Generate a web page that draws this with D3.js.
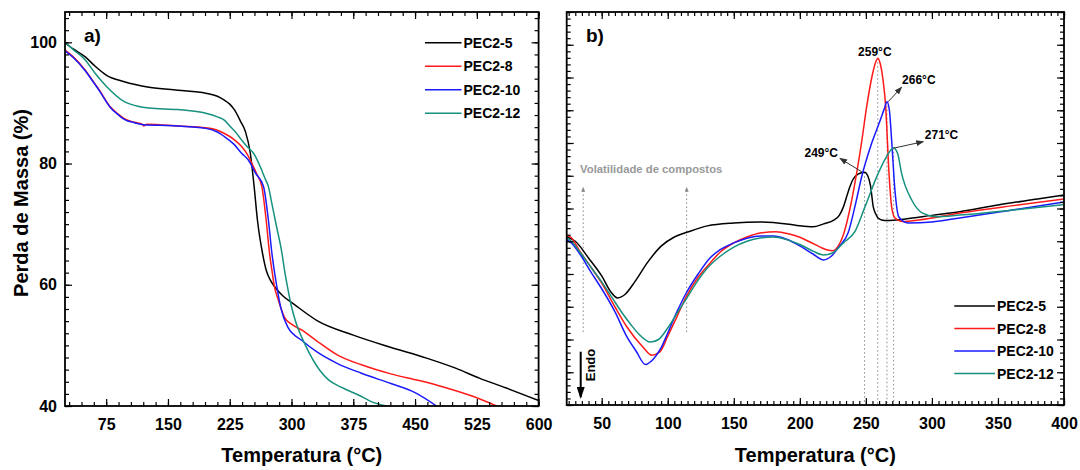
<!DOCTYPE html>
<meta charset="utf-8">
<style>

body {
  margin: 0;
  background: #fff;
}

svg {
  font-family: "Liberation Sans", Arial, Helvetica, sans-serif;
  font-weight: bold;
}

.tick text {
  font-size: 16px;
  font-weight: bold;
  fill: #000;
}

.tick line {
  stroke: #000;
  stroke-width: 1.2px;
}

.frame {
  fill: none;
  stroke: #000;
  stroke-width: 1.8px;
}

.curve {
  fill: none;
  stroke-width: 1.5px;
}

</style>
<svg width="1080" height="470"></svg>
<script src="https://d3js.org/d3.v7.min.js"></script>
<script>

var names = ["PEC2-5", "PEC2-8", "PEC2-10", "PEC2-12"];
var colors = ["#000000", "#ff1a1a", "#1a1aff", "#17917f"];

// a) TGA, [temperatura, perda de massa %]
var tga5 = [[25,99.9],[35,98.9],[49.6,97.6],[62,96.0],[75,94.6],[97,93.5],[127,92.6],[162,92.1],[196,91.6],[210,91.1],[218,90.5],[225,89.8],[231,88.8],[238,87.0],[244,85.3],[250,81.7],[254.7,76.1],[258.7,70.6],[264.8,65.2],[269.3,62.4],[275,60.6],[280,59.6],[290,58.1],[302,56.9],[331,54.1],[375,51.7],[420,49.7],[464,47.9],[500,46.2],[528,44.6],[560,43.0],[600,40.9]];
var tga8 = [[25,98.7],[35,97.6],[49.6,95.4],[58,93.8],[66.8,92.1],[79.7,89.4],[90,88.1],[97,87.4],[110,86.8],[118.6,86.5],[121,86.2],[124,86.5],[140,86.4],[162,86.2],[196,85.9],[210,85.5],[218,85.0],[230,84.0],[239.4,82.8],[246,81.6],[252,80.0],[258,78.2],[264,76.2],[269.3,70.6],[273.3,65.2],[276.2,62.4],[279.4,59.6],[284,57.5],[291.2,54.7],[300,53.5],[312.7,52.5],[330,50.8],[355.9,48.4],[385,46.8],[420.6,45.3],[455,44.2],[485.3,43.1],[520,41.6],[549,40.0]];
var tga10 = [[25,98.6],[35,97.5],[49.6,95.3],[58,93.7],[66.8,92.0],[79.7,89.3],[90,88.0],[97,87.3],[110,86.7],[120,86.4],[140,86.3],[162,86.2],[196,85.8],[210,85.2],[218,84.5],[230,83.2],[239.4,81.7],[248,80.5],[256,78.5],[266,76.2],[272,70.6],[276.2,65.2],[279,62.4],[282.3,59.6],[286.8,56.3],[295.5,53.0],[312.7,50.8],[330,49.0],[355.9,47.0],[385,45.4],[420.6,43.7],[450,42.2],[476,40.0]];
var tga12 = [[25,100],[35,98.8],[49.6,97.1],[62,94.8],[75.4,92.7],[97,90.2],[112,89.5],[127,89.15],[162,88.9],[196,88.3],[210,87.7],[218,87.2],[225.6,86.1],[232,85.2],[239.4,83.9],[246,82.8],[253.9,81.7],[262,79.5],[268,77.5],[272,76.2],[276,73.5],[280.3,70.6],[288.4,65.2],[292,62.0],[295.5,59.4],[299.8,56.5],[304.6,54.1],[317,50.0],[334.3,45.9],[345,44.3],[360.2,43.1],[380,41.9],[399,40.6],[416,40.0]];

// b) DTA, [temperatura, sinal (u.a.)]
var dta5 = [[23.5,5.13],[30,5.0],[40,4.49],[50,3.94],[57,3.45],[62,3.27],[68,3.39],[75,3.76],[85,4.37],[95,4.85],[105,5.13],[115,5.28],[130,5.47],[150,5.56],[170,5.59],[190,5.53],[200,5.47],[210,5.44],[218,5.53],[226,5.65],[230,5.8],[233,6.05],[237,6.56],[240,6.87],[244,7.05],[249,7.11],[251.5,6.99],[253.5,6.7],[255.6,6.05],[257.5,5.83],[259.2,5.71],[262,5.65],[266,5.63],[280,5.68],[300,5.79],[321,5.9],[350,6.11],[380,6.29],[400,6.41]];
var dta8 = [[23.5,5.16],[26,5.14],[33.6,4.68],[42,4.2],[50,3.72],[60,3.0],[69,2.39],[81,1.78],[88,1.52],[94,1.62],[100,2.1],[107,2.7],[114,3.31],[123,3.9],[132,4.33],[140,4.68],[149.5,4.94],[160,5.13],[170,5.25],[182,5.29],[192,5.22],[200,5.12],[208,4.97],[215,4.83],[221,4.73],[225,4.71],[229,4.85],[233,5.2],[238,6.0],[243,7.08],[247,8.09],[250.6,9.11],[255,10.1],[257.5,10.48],[259,10.59],[260.7,10.45],[263,9.92],[265,9.11],[267.5,7.08],[269.5,6.05],[272,5.71],[278,5.6],[290,5.65],[321,5.86],[360,6.08],[400,6.29]];
var dta10 = [[23.5,5.05],[27,4.95],[34,4.58],[42,4.05],[50,3.55],[60,2.85],[69,2.09],[76,1.65],[83,1.24],[89,1.4],[95,1.75],[100,2.2],[107,2.85],[114,3.42],[123,4.0],[132,4.49],[140,4.75],[150,4.95],[160,5.09],[170,5.16],[180,5.16],[190,5.06],[200,4.86],[210,4.61],[218,4.43],[224,4.55],[230,4.85],[236.5,5.25],[242,6.11],[247,7.0],[254,7.95],[260,8.6],[264,9.05],[266,9.26],[267.8,9.0],[269.5,8.09],[272,6.56],[275,5.74],[282,5.56],[300,5.59],[321,5.71],[360,5.95],[400,6.2]];
var dta12 = [[23.5,5.1],[27,5.0],[34,4.64],[42,4.2],[50,3.76],[58,3.27],[65,2.84],[72,2.46],[78,2.17],[87,1.92],[93,2.0],[100,2.35],[107,2.8],[115,3.3],[122,3.75],[130,4.18],[140,4.55],[150,4.82],[160,5.0],[170,5.1],[180,5.13],[190,5.05],[200,4.9],[210,4.7],[218,4.58],[225,4.65],[233,4.95],[241.8,5.3],[249.3,6.05],[259.4,7.08],[265,7.54],[271,7.85],[274,7.69],[277,7.08],[284.7,6.26],[293,5.86],[303.6,5.75],[321,5.8],[360,5.95],[400,6.12]];

var tgaXTicks = [75, 150, 225, 300, 375, 450, 525, 600];
var tgaYTicks = [40, 60, 80, 100];
var dtaXTicks = [50, 100, 150, 200, 250, 300, 350, 400];
var dtaYTicks = d3.range(0, 13, 1);

// peak labels: text, label position, arrow from -> to (data units)
var peakNotes = [
  {text: "249°C", t: 216.2, v: 7.57, from: [246.9, 7.12], to: [230.4, 7.53]},
  {text: "259°C", t: 256.8, v: 10.65, from: null, to: null},
  {text: "266°C", t: 290.1, v: 9.79, from: [266.9, 9.26], to: [277, 9.70]},
  {text: "271°C", t: 307.3, v: 8.13, from: [270.7, 7.84], to: [293.4, 8.04]}
];
var volatileT = [36, 114.3];
var volatileRange = [2.23, 6.63];

var svg = d3.select("svg");

var x1 = d3.scaleLinear().domain([25, 600]).range([65, 538.6]),
    y1 = d3.scaleLinear().domain([40, 105]).range([406, 12]),
    x2 = d3.scaleLinear().domain([23.5, 400]).range([566.7, 1064]),
    y2 = d3.scaleLinear().domain([0, 12]).range([405, 12]);

var defs = svg.append("defs");
defs.append("marker").attr("id", "head")
    .attr("markerUnits", "userSpaceOnUse")
    .attr("markerWidth", 8).attr("markerHeight", 6)
    .attr("refX", 7).attr("refY", 3).attr("orient", "auto")
  .append("path").attr("d", "M0,0L8,3L0,6z").attr("fill", "#333");
defs.append("marker").attr("id", "headGray")
    .attr("markerUnits", "userSpaceOnUse")
    .attr("markerWidth", 5).attr("markerHeight", 4)
    .attr("refX", 4).attr("refY", 2).attr("orient", "auto")
  .append("path").attr("d", "M0,0L5,2L0,4z").attr("fill", "#888");
defs.append("marker").attr("id", "headEndo")
    .attr("markerUnits", "userSpaceOnUse")
    .attr("markerWidth", 12).attr("markerHeight", 8)
    .attr("refX", 10).attr("refY", 4).attr("orient", "auto")
  .append("path").attr("d", "M0,0L12,4L0,8z").attr("fill", "#000");

function clip(id, x, y) {
  defs.append("clipPath").attr("id", id)
    .append("rect")
    .attr("x", x.range()[0]).attr("y", y.range()[1])
    .attr("width", x.range()[1] - x.range()[0])
    .attr("height", y.range()[0] - y.range()[1]);
}
clip("clipA", x1, y1);
clip("clipB", x2, y2);

function axes(g, x, y, xt, xm, yt, ym, yLabels) {
  var b = y.range()[0], t = y.range()[1], l = x.range()[0], r = x.range()[1];
  [[d3.axisBottom, b, true], [d3.axisTop, t, false]].forEach(function(a) {
    g.append("g").attr("transform", "translate(0," + a[1] + ")")
      .call(a[0](x).tickValues(xm).tickSize(-4).tickFormat(""));
    g.append("g").attr("transform", "translate(0," + a[1] + ")")
      .call(a[0](x).tickValues(xt).tickSize(-7).tickPadding(13)
        .tickFormat(a[2] ? d3.format("d") : ""));
  });
  [[d3.axisLeft, l, yLabels], [d3.axisRight, r, false]].forEach(function(a) {
    g.append("g").attr("transform", "translate(" + a[1] + ",0)")
      .call(a[0](y).tickValues(ym).tickSize(-4).tickFormat(""));
    g.append("g").attr("transform", "translate(" + a[1] + ",0)")
      .call(a[0](y).tickValues(yt).tickSize(-7).tickPadding(8)
        .tickFormat(a[2] ? d3.format("d") : ""));
  });
  g.selectAll(".domain").remove();
  g.append("rect").attr("class", "frame")
    .attr("x", l).attr("y", t).attr("width", r - l).attr("height", b - t);
}

function curves(g, x, y, data, clipId) {
  var line = d3.line()
    .x(function(d) { return x(d[0]); })
    .y(function(d) { return y(d[1]); })
    .curve(d3.curveMonotoneX);
  g.append("g").attr("clip-path", "url(#" + clipId + ")")
    .selectAll("path").data(data).enter().append("path")
    .attr("class", "curve")
    .attr("stroke", function(d, i) { return colors[i]; })
    .attr("d", line);
}

function legend(g, x0, x1l, y0, dy) {
  var item = g.selectAll(".leg").data(names).enter().append("g")
    .attr("transform", function(d, i) { return "translate(0," + (y0 + i * dy) + ")"; });
  item.append("line").attr("x1", x0).attr("x2", x1l)
    .attr("stroke", function(d, i) { return colors[i]; })
    .attr("stroke-width", 1.6);
  item.append("text").attr("x", x1l + 2).attr("dy", "0.36em")
    .attr("font-size", 14).text(function(d) { return d; });
}

// ---- a) TGA
var ga = svg.append("g");
var tgaData = [tga5, tga8, tga10, tga12];
curves(ga, x1, y1, tgaData, "clipA");
axes(ga, x1, y1, tgaXTicks, d3.range(30, 601, 15), tgaYTicks, d3.range(40, 105, 2), true);
legend(ga, 425, 461.5, 42.7, 23.5);
ga.append("text").attr("x", 84).attr("y", 42).attr("font-size", 19).text("a)");
ga.append("text").attr("transform", "translate(28,203) rotate(-90)")
  .attr("text-anchor", "middle").attr("font-size", 20).text("Perda de Massa (%)");
ga.append("text").attr("x", (x1.range()[0] + x1.range()[1]) / 2).attr("y", 462)
  .attr("text-anchor", "middle").attr("font-size", 20).text("Temperatura (°C)");

// ---- b) DTA
var gb = svg.append("g");
var dtaData = [dta5, dta8, dta10, dta12];

// dotted lines under the peaks
dtaData.forEach(function(s) {
  var p = d3.greatest(s, function(d) { return d[1]; });
  gb.append("line")
    .attr("x1", x2(p[0])).attr("x2", x2(p[0]))
    .attr("y1", y2(p[1])).attr("y2", y2(0))
    .attr("stroke", "#888").attr("stroke-width", 1)
    .attr("stroke-dasharray", "1.5,2.5");
});

volatileT.forEach(function(t) {
  gb.append("line")
    .attr("x1", x2(t)).attr("x2", x2(t))
    .attr("y1", y2(volatileRange[0])).attr("y2", y2(volatileRange[1]))
    .attr("stroke", "#888").attr("stroke-width", 1)
    .attr("stroke-dasharray", "1.5,2.5")
    .attr("marker-end", "url(#headGray)");
});
gb.append("text").attr("x", x2(33.6)).attr("y", y2(7.08))
  .attr("font-size", 11.3).attr("fill", "#999").text("Volatilidade de compostos");

curves(gb, x2, y2, dtaData, "clipB");
axes(gb, x2, y2, dtaXTicks, d3.range(25, 401, 5), dtaYTicks, d3.range(0, 12.01, 0.2), false);
legend(gb, 954.3, 995, 306, 22.5);

peakNotes.forEach(function(n) {
  gb.append("text").attr("x", x2(n.t)).attr("y", y2(n.v))
    .attr("text-anchor", "middle").attr("font-size", 12).text(n.text);
  if (n.from) {
    gb.append("line")
      .attr("x1", x2(n.from[0])).attr("y1", y2(n.from[1]))
      .attr("x2", x2(n.to[0])).attr("y2", y2(n.to[1]))
      .attr("stroke", "#333").attr("stroke-width", 1)
      .attr("marker-end", "url(#head)");
  }
});

gb.append("text").attr("x", 586).attr("y", 42).attr("font-size", 19).text("b)");
gb.append("line").attr("x1", 580.7).attr("x2", 580.7).attr("y1", 351.7).attr("y2", 397)
  .attr("stroke", "#000").attr("stroke-width", 2).attr("marker-end", "url(#headEndo)");
gb.append("text").attr("transform", "translate(595,365) rotate(-90)")
  .attr("text-anchor", "middle").attr("font-size", 13).text("Endo");
gb.append("text").attr("x", (x2.range()[0] + x2.range()[1]) / 2).attr("y", 462)
  .attr("text-anchor", "middle").attr("font-size", 20).text("Temperatura (°C)");

</script>
